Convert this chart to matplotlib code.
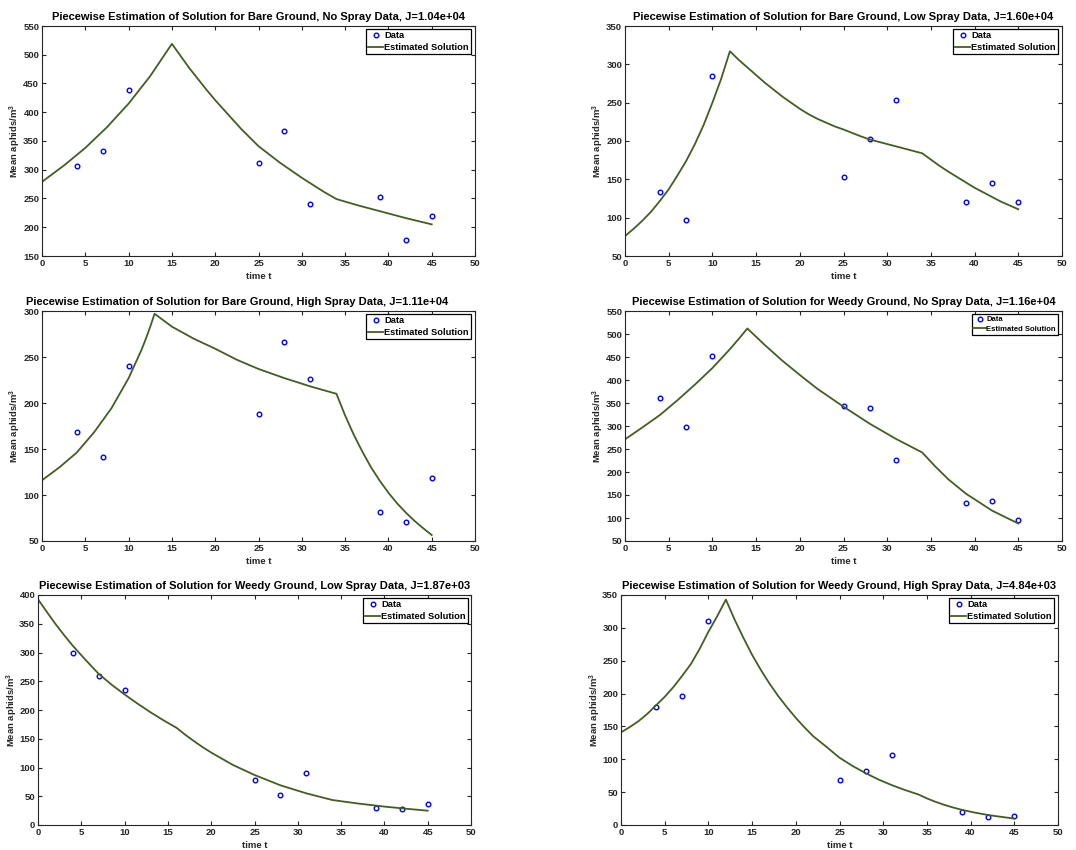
import matplotlib
matplotlib.use("Agg")
import matplotlib.pyplot as plt

plt.rcParams['font.family'] = ['Liberation Sans', 'DejaVu Sans']
plt.rcParams['mathtext.fontset'] = 'custom'
plt.rcParams['mathtext.rm'] = 'Liberation Sans'
plt.rcParams['mathtext.default'] = 'regular'

# sampling times of the field data (same for every plot)
t_data = [4, 7, 10, 25, 28, 31, 39, 42, 45]

bare_no_data = [307, 333, 439, 311, 368, 240, 252, 177, 220]
bare_low_data = [134, 96.5, 284.5, 152.5, 202, 253.5, 120, 145.5, 120]
bare_high_data = [168, 141, 240, 188, 266, 226, 82, 71, 119]
weedy_no_data = [360, 297.5, 452, 344.5, 339, 226.5, 133, 138, 96]
weedy_low_data = [300, 259, 235.5, 78, 52, 90, 29, 27, 37]
weedy_high_data = [179, 196.5, 310.5, 68.5, 82.5, 106.5, 20, 12.5, 14]

# estimated solution
bare_no_t = [0, 2.5, 5, 7.5, 10, 12.5, 15, 16, 17, 18, 19, 20, 21.5, 23, 25, 27.5, 30, 32.5,
             34, 36.5, 39, 42, 45]
bare_no_y = [279, 307, 338, 374, 415, 463, 519, 498, 477, 458, 439, 421, 396, 371, 341, 312,
             286, 262, 249, 238, 228, 216, 205]

bare_low_t = [0, 1, 2, 3, 4, 5, 6, 7, 8, 9, 10, 11, 12, 13, 14, 15, 16, 17, 18, 19, 20, 21,
              22, 23, 24, 25, 26, 27, 28, 29, 30, 31, 32, 33, 34, 35, 36, 37, 38, 39, 40, 41,
              42, 43, 44, 45]
bare_low_y = [76, 85.6, 96.2, 108, 122, 137, 155, 174, 196, 221, 250, 281, 317, 306, 296,
              286, 276, 267, 258, 250, 242, 235, 229, 224, 219, 215, 210.5, 206, 202, 199,
              196, 193, 190, 187, 184, 175.7, 167.5, 160, 153, 146, 139, 133, 127, 121, 116,
              111]

bare_high_t = [0, 2, 4, 6, 8, 10, 11.5, 12, 12.5, 13, 14, 15, 17.5, 20, 22.5, 25, 28, 31, 34,
               35, 36, 37, 38, 39, 40, 41, 42, 43, 44, 45]
bare_high_y = [116, 130, 146, 168, 194, 227, 258, 270, 283, 297, 290, 283, 270, 259, 247,
               237, 227, 218, 210, 186.5, 165.5, 147, 130, 115.5, 102.5, 91, 81, 72, 64, 56.5]

weedy_no_t = [0, 2, 4, 6, 8, 10, 12, 13, 14, 15, 16, 18, 20, 22, 25, 28, 31, 34, 35.5, 37,
              39, 42, 45]
weedy_no_y = [271, 297, 324, 356, 390, 426, 467, 489, 512, 494, 476, 442, 411, 381, 342,
              305, 272, 242.5, 212, 184, 153, 116, 88]

weedy_low_t = [0, 1, 2, 3, 4, 5.5, 7, 8.5, 10, 11.5, 13, 14.5, 16, 17, 18, 19, 20, 22.5, 25,
               28, 31, 34, 37, 40, 42.5, 45]
weedy_low_y = [392.5, 371, 350, 330.5, 312, 287, 263, 244, 227, 211, 196, 182, 169, 157,
               146, 135.5, 126, 104.5, 87, 69, 55, 43.4, 37.3, 32, 28.3, 24.9]

weedy_high_t = [0, 1, 2, 3, 4, 5, 6, 7, 8, 9, 10, 11, 12, 13, 14, 15, 16, 17, 18, 19, 20,
                21, 22, 23.5, 25, 26.5, 28, 29.5, 31, 32.5, 34, 35, 36, 37, 38, 39, 40.5,
                42, 43.5, 45]
weedy_high_y = [141, 149, 158, 169, 182, 195, 210, 227, 245, 268, 294, 317.5, 343, 312.6,
                285, 259, 236, 215, 196, 179, 163, 148.5, 135, 119, 102.4, 89.8, 78.8, 69,
                60.6, 53.2, 46.6, 40.5, 35.2, 30.6, 26.6, 23.1, 18.8, 15.2, 12.4, 9.8]

titles = [
    'Piecewise Estimation of Solution for Bare Ground, No Spray Data, J=1.04e+04',
    'Piecewise Estimation of Solution for Bare Ground, Low Spray Data, J=1.60e+04',
    'Piecewise Estimation of Solution for Bare Ground, High Spray Data, J=1.11e+04',
    'Piecewise Estimation of Solution for Weedy Ground, No Spray Data, J=1.16e+04',
    'Piecewise Estimation of Solution for Weedy Ground, Low Spray Data, J=1.87e+03',
    'Piecewise Estimation of Solution for Weedy Ground, High Spray Data, J=4.84e+03',
]
ylims = [(150, 550), (50, 350), (50, 300), (50, 550), (0, 400), (0, 350)]

W, H = 1076, 850
# axes boxes in pixels: left, top, right, bottom
boxes = [(42, 26, 475, 256), (625, 26, 1062, 256),
         (42, 311, 475, 541), (625, 311, 1062, 541),
         (38, 595, 471, 825), (621, 595, 1058, 825)]
# legend box upper-right corners in pixels, and font size
legends = [(471, 29, 6.7), (1058, 29, 6.7), (471, 314, 6.7),
           (1058, 314, 5.5), (468, 598, 6.7), (1054, 598, 6.7)]
title_x = [0.5, 0.5, 0.45, 0.5, 0.5, 0.5]

data_sets = [bare_no_data, bare_low_data, bare_high_data,
             weedy_no_data, weedy_low_data, weedy_high_data]
curves = [(bare_no_t, bare_no_y), (bare_low_t, bare_low_y), (bare_high_t, bare_high_y),
          (weedy_no_t, weedy_no_y), (weedy_low_t, weedy_low_y), (weedy_high_t, weedy_high_y)]

line_color = '#445e22'
axis_color = '#262626'

fig = plt.figure(figsize=(W / 100, H / 100), dpi=100)

for i in range(6):
    l, t, r, b = boxes[i]
    ax = fig.add_axes([l / W, 1 - b / H, (r - l) / W, (b - t) / H])
    ax.plot(t_data, data_sets[i], 'o', mfc='none', mec='blue', ms=3.3, mew=1.0, label='Data')
    ax.plot(curves[i][0], curves[i][1], '-', color=line_color, lw=1.3, label='Estimated Solution')
    ax.set_xlim(0, 50)
    ax.set_ylim(*ylims[i])
    ax.set_xticks(range(0, 51, 5))
    lo, hi = ylims[i]
    ax.set_yticks(range(lo, hi + 1, 50))
    ax.tick_params(direction='in', top=True, right=True, length=3, width=0.8,
                   labelsize=6.8, pad=2, colors=axis_color)
    for lab in ax.get_xticklabels() + ax.get_yticklabels():
        lab.set_fontweight('bold')
    for s in ax.spines.values():
        s.set_color(axis_color)
        s.set_linewidth(0.8)
    w_px = r - l
    h_px = b - t
    ax.set_title(titles[i], fontsize=8.0, fontweight='bold', x=title_x[i], pad=4)
    ax.set_xlabel('time t', fontsize=6.8, fontweight='bold', color=axis_color)
    ax.xaxis.set_label_coords(0.5, -16 / h_px)
    ax.set_ylabel('Mean aphids/m$^3$', fontsize=6.8, fontweight='bold', color=axis_color)
    ax.yaxis.set_label_coords(-18.5 / w_px, 0.5)

    lx, ly, fs = legends[i]
    leg = ax.legend(loc='upper right', bbox_to_anchor=(lx / W, 1 - ly / H),
                    bbox_transform=fig.transFigure, fontsize=fs, borderaxespad=0,
                    frameon=True, fancybox=False, framealpha=1, edgecolor='black',
                    handlelength=1.6, handletextpad=0.1, borderpad=0.25,
                    labelspacing=0.3, prop={'weight': 'bold', 'size': fs})
    leg.get_frame().set_linewidth(0.9)

fig.savefig('out.png', dpi=100)
